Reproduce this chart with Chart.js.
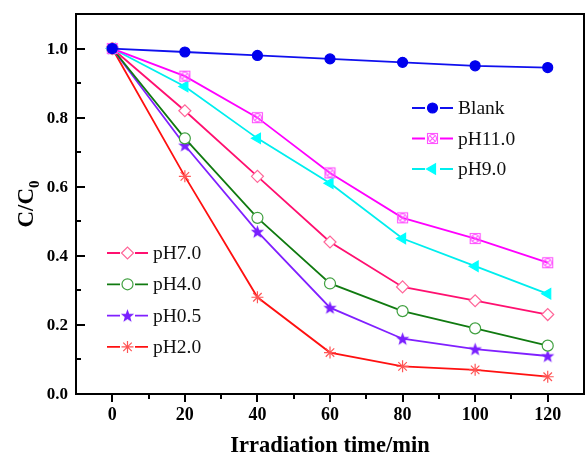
<!DOCTYPE html>
<html lang="en">
<head>
    <meta charset="UTF-8">
    <title>C/C0 vs irradiation time</title>
    <script src="https://cdn.jsdelivr.net/npm/chart.js"></script>
    <style>
        body { margin: 0; background: #ffffff; }
        #wrap { width: 587px; height: 460px; }
    </style>
</head>
<body>
    <div id="wrap"><canvas id="chart" width="587" height="460"></canvas></div>
    <script>
        // data
        const times = [0, 20, 40, 60, 80, 100, 120];
        const blank = [1.0, 0.99, 0.98, 0.97, 0.96, 0.95, 0.945];
        const ph110 = [1.0, 0.92, 0.80, 0.64, 0.51, 0.45, 0.38];
        const ph90 = [1.0, 0.89, 0.74, 0.61, 0.45, 0.37, 0.29];
        const ph70 = [1.0, 0.82, 0.63, 0.44, 0.31, 0.27, 0.23];
        const ph40 = [1.0, 0.74, 0.51, 0.32, 0.24, 0.19, 0.14];
        const ph05 = [1.0, 0.72, 0.47, 0.25, 0.16, 0.13, 0.11];
        const ph20 = [1.0, 0.63, 0.28, 0.12, 0.08, 0.07, 0.05];
        const xTicks = [0, 20, 40, 60, 80, 100, 120];
        const yTicks = [0.0, 0.2, 0.4, 0.6, 0.8, 1.0];

        const serif = '"Liberation Serif", "DejaVu Serif", serif';

        // little canvases for the markers Chart.js has no style for
        function markerCanvas(size, draw) {
            const c = document.createElement('canvas');
            c.width = size; c.height = size;
            draw(c.getContext('2d'), size / 2);
            return c;
        }

        const crossBox = markerCanvas(13, (g, m) => {
            g.strokeStyle = '#ff55ff';
            g.lineWidth = 1.1;
            g.strokeRect(1.5, 1.5, 10, 10);
            g.beginPath();
            g.arc(m, m, 4, 0, Math.PI * 2);
            g.stroke();
            g.beginPath();
            g.moveTo(m - 2.8, m - 2.8); g.lineTo(m + 2.8, m + 2.8);
            g.moveTo(m + 2.8, m - 2.8); g.lineTo(m - 2.8, m + 2.8);
            g.stroke();
        });

        const fullStar = markerCanvas(15, (g, m) => {
            g.fillStyle = '#7a1fff';
            g.beginPath();
            for (let i = 0; i < 10; i++) {
                const r = i % 2 === 0 ? 7 : 2.9;
                const a = -Math.PI / 2 + i * Math.PI / 5;
                const px = m + r * Math.cos(a), py = m + 0.5 + r * Math.sin(a);
                if (i === 0) g.moveTo(px, py); else g.lineTo(px, py);
            }
            g.closePath();
            g.fill();
        });

        function pts(vals) {
            return times.map((t, i) => ({ x: t, y: vals[i] }));
        }

        const datasets = [
            { label: 'Blank', data: pts(blank), borderColor: '#1010ee', pointStyle: 'circle',
              pointBackgroundColor: '#0000ee', pointBorderColor: '#0000ee', pointRadius: 5, group: 1 },
            { label: 'pH11.0', data: pts(ph110), borderColor: '#ff00ff', pointStyle: crossBox,
              pointBackgroundColor: '#ffffff', pointBorderColor: '#ff55ff', pointRadius: 6, group: 1 },
            { label: 'pH9.0', data: pts(ph90), borderColor: '#00eeee', pointStyle: 'triangle', pointRotation: 270,
              pointBackgroundColor: '#00ffff', pointBorderColor: '#00ffff', pointRadius: 6, group: 1 },
            { label: 'pH7.0', data: pts(ph70), borderColor: '#ff1070', pointStyle: 'rectRot',
              pointBackgroundColor: '#ffffff', pointBorderColor: '#ff6699', pointRadius: 6, group: 2 },
            { label: 'pH4.0', data: pts(ph40), borderColor: '#107a10', pointStyle: 'circle',
              pointBackgroundColor: '#ffffff', pointBorderColor: '#40a040', pointRadius: 5.5, group: 2 },
            { label: 'pH0.5', data: pts(ph05), borderColor: '#8020ff', pointStyle: fullStar,
              pointBackgroundColor: '#7a1fff', pointBorderColor: '#7a1fff', pointRadius: 6, group: 2 },
            { label: 'pH2.0', data: pts(ph20), borderColor: '#ff1010', pointStyle: 'star',
              pointBackgroundColor: '#ff5555', pointBorderColor: '#ff5555', pointRadius: 6, group: 2 }
        ];
        datasets.forEach(d => {
            d.borderWidth = 1.8;
            d.pointBorderWidth = 1.2;
            d.tension = 0;
            d.fill = false;
        });

        // axes, frame, ticks, titles and the two legend blocks
        const frame = {
            id: 'frame',
            afterDraw(chart) {
                const ctx = chart.ctx;
                const a = chart.chartArea;
                const xs = chart.scales.x, ys = chart.scales.y;
                ctx.save();
                ctx.strokeStyle = '#000';
                ctx.lineWidth = 2;
                ctx.strokeRect(a.left, a.top, a.right - a.left, a.bottom - a.top);

                // x ticks point down, minor every 10
                for (let v = 0; v <= 120; v += 10) {
                    const px = Math.round(xs.getPixelForValue(v));
                    const len = v % 20 === 0 ? 8 : 5;
                    ctx.beginPath();
                    ctx.moveTo(px, a.bottom);
                    ctx.lineTo(px, a.bottom + len);
                    ctx.stroke();
                }

                // y ticks point inward, minor every 0.1
                for (let k = 1; k <= 10; k++) {
                    const py = Math.round(ys.getPixelForValue(k / 10));
                    const len = k % 2 === 0 ? 9 : 5;
                    ctx.beginPath();
                    ctx.moveTo(a.left, py);
                    ctx.lineTo(a.left + len, py);
                    ctx.stroke();
                }

                ctx.fillStyle = '#000';
                ctx.font = 'bold 18px ' + serif;
                ctx.textAlign = 'center';
                ctx.textBaseline = 'top';
                xTicks.forEach(v => ctx.fillText(String(v), xs.getPixelForValue(v), a.bottom + 12));
                ctx.font = 'bold 17px ' + serif;
                ctx.textAlign = 'right';
                ctx.textBaseline = 'middle';
                yTicks.forEach(v => ctx.fillText(v.toFixed(1), a.left - 8, ys.getPixelForValue(v) + 1));

                // axis titles
                ctx.font = 'bold 22.5px ' + serif;
                ctx.textAlign = 'center';
                ctx.textBaseline = 'middle';
                ctx.fillText('Irradiation time/min', (a.left + a.right) / 2, 446);

                ctx.save();
                ctx.translate(27, (a.top + a.bottom) / 2);
                ctx.rotate(-Math.PI / 2);
                ctx.textAlign = 'left';
                ctx.font = 'bold 23px ' + serif;
                const main = 'C/C';
                const w = ctx.measureText(main).width;
                ctx.font = 'bold 15px ' + serif;
                const ws = ctx.measureText('0').width;
                const start = -(w + ws) / 2;
                ctx.font = 'bold 23px ' + serif;
                ctx.fillText(main, start, 0);
                ctx.font = 'bold 15px ' + serif;
                ctx.fillText('0', start + w, 8);
                ctx.restore();

                // legends
                const spots = { 1: { x: 412, y: 108, gap: 30.5 }, 2: { x: 107, y: 253, gap: 31.3 } };
                const count = { 1: 0, 2: 0 };
                chart.data.datasets.forEach(d => {
                    const s = spots[d.group];
                    const y = s.y + count[d.group]++ * s.gap;
                    ctx.strokeStyle = d.borderColor;
                    ctx.lineWidth = 1.8;
                    ctx.beginPath();
                    ctx.moveTo(s.x, y);
                    ctx.lineTo(s.x + 41, y);
                    ctx.stroke();
                    ctx.fillStyle = '#ffffff';
                    ctx.fillRect(s.x + 13, y - 6, 15, 12);
                    ctx.fillStyle = d.pointBackgroundColor;
                    ctx.strokeStyle = d.pointBorderColor;
                    ctx.lineWidth = 1.2;
                    Chart.helpers.drawPoint(ctx, {
                        pointStyle: d.pointStyle,
                        rotation: d.pointRotation || 0,
                        radius: d.pointRadius,
                        borderWidth: 1.2
                    }, s.x + 20.5, y);
                    ctx.fillStyle = '#111';
                    ctx.font = '19.5px ' + serif;
                    ctx.textAlign = 'left';
                    ctx.textBaseline = 'middle';
                    ctx.fillText(d.label, s.x + 46, y + 1);
                });
                ctx.restore();
            }
        };

        new Chart(document.getElementById('chart'), {
            type: 'line',
            data: { datasets: datasets },
            options: {
                responsive: false,
                animation: false,
                layout: { autoPadding: false, padding: { left: 76, right: 3, top: 14, bottom: 66 } },
                plugins: { legend: { display: false }, tooltip: { enabled: false } },
                scales: {
                    x: { type: 'linear', min: -10, max: 130, display: false },
                    y: { min: 0, max: 1.1, display: false }
                }
            },
            plugins: [frame]
        });
    </script>
</body>
</html>
